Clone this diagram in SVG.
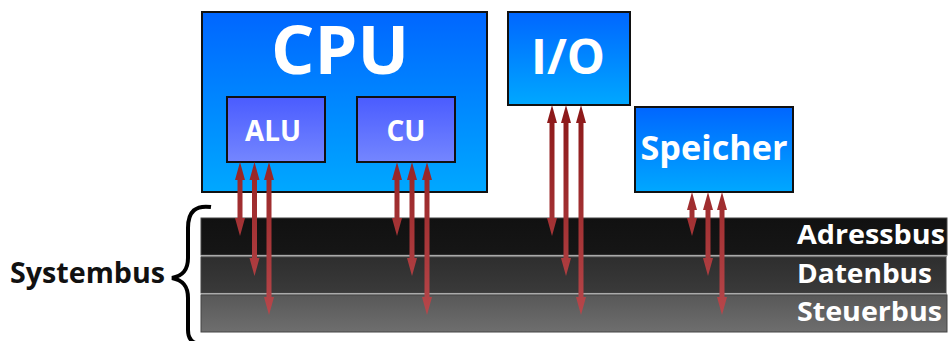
<svg xmlns="http://www.w3.org/2000/svg" width="950" height="341" viewBox="0 0 950 341">
<defs>
<linearGradient id="gBlue" x1="0" y1="0" x2="0" y2="1">
<stop offset="0" stop-color="#0066ff"/>
<stop offset="1" stop-color="#00a8ff"/>
</linearGradient>
<linearGradient id="gSub" x1="0" y1="0" x2="0" y2="1">
<stop offset="0" stop-color="#4a5cff"/>
<stop offset="1" stop-color="#7486ff"/>
</linearGradient>
<linearGradient id="gBus1" x1="0" y1="0" x2="0" y2="1">
<stop offset="0" stop-color="#111"/>
<stop offset="1" stop-color="#161616"/>
</linearGradient>
<linearGradient id="gBus2" x1="0" y1="0" x2="0" y2="1">
<stop offset="0" stop-color="#2e2e2e"/>
<stop offset="1" stop-color="#3a3a3a"/>
</linearGradient>
<linearGradient id="gBus3" x1="0" y1="0" x2="0" y2="1">
<stop offset="0" stop-color="#585858"/>
<stop offset="1" stop-color="#6e6e6e"/>
</linearGradient>
<linearGradient id="gArrow" gradientUnits="userSpaceOnUse" x1="0" y1="100" x2="0" y2="320">
<stop offset="0" stop-color="#8a1616"/>
<stop offset="1" stop-color="#b8484c"/>
</linearGradient>
</defs>
<style>
.box{stroke:#111;stroke-width:2}
.bus{stroke:#444;stroke-width:1}
.t{font-family:"Open Sans","DejaVu Sans",sans-serif;font-weight:bold;fill:#fff}
.lbl{font-family:"Open Sans","DejaVu Sans",sans-serif;font-weight:bold;fill:#fff;font-size:27px;text-anchor:end}
.arr{fill:url(#gArrow)}
</style>
<rect width="950" height="341" fill="#fff"/>

<g id="systembus-label">
<text x="10" y="283" font-family="Open Sans, DejaVu Sans, sans-serif" font-weight="bold" font-size="28" fill="#111" textLength="155" lengthAdjust="spacingAndGlyphs">Systembus</text>
<path d="M211,207 C196,205 188,211 188,228 L188,258 C188,271 182,276 172,278 C182,280 188,285 188,298 L188,330 C188,342 196,346 209,343" fill="none" stroke="#000" stroke-width="4"/>
</g>

<g id="adressbus">
<rect class="bus" x="201" y="218" width="746" height="37" fill="url(#gBus1)"/>
<text class="lbl" x="945" y="244" textLength="148" lengthAdjust="spacingAndGlyphs">Adressbus</text>
</g>
<rect x="201" y="255" width="746" height="2" fill="#aaa"/>
<g id="datenbus">
<rect class="bus" x="201" y="257" width="745" height="36" fill="url(#gBus2)"/>
<text class="lbl" x="932" y="283" textLength="135" lengthAdjust="spacingAndGlyphs">Datenbus</text>
</g>
<rect x="201" y="293" width="746" height="2" fill="#aaa"/>
<g id="steuerbus">
<rect class="bus" x="201" y="295" width="746" height="37" fill="url(#gBus3)"/>
<text class="lbl" x="942" y="321" textLength="145" lengthAdjust="spacingAndGlyphs">Steuerbus</text>
</g>

<g id="cpu">
<rect class="box" x="202" y="12" width="285" height="180" fill="url(#gBlue)"/>
<text class="t" x="340" y="74" font-size="66" text-anchor="middle" textLength="138" lengthAdjust="spacingAndGlyphs">CPU</text>
</g>
<g id="alu">
<rect class="box" x="227" y="97" width="98" height="65" fill="url(#gSub)"/>
<text class="t" x="273" y="141" font-size="28" text-anchor="middle" textLength="56" lengthAdjust="spacingAndGlyphs">ALU</text>
</g>
<g id="cu">
<rect class="box" x="357" y="97" width="98" height="65" fill="url(#gSub)"/>
<text class="t" x="406" y="141" font-size="28" text-anchor="middle">CU</text>
</g>
<g id="io">
<rect class="box" x="508" y="12" width="122" height="93" fill="url(#gBlue)"/>
<text class="t" x="568" y="74" font-size="48" text-anchor="middle">I/O</text>
</g>
<g id="speicher">
<rect class="box" x="635" y="107" width="158" height="85" fill="url(#gBlue)"/>
<text class="t" x="714" y="160" font-size="34" text-anchor="middle" textLength="147" lengthAdjust="spacingAndGlyphs">Speicher</text>
</g>

<g id="connectors">
<path class="arr" d="M240,162 L245,180 L242.5,180 L242.5,218 L245,218 L240,236 L235,218 L237.5,218 L237.5,180 L235,180 Z"/>
<path class="arr" d="M254.5,162 L259.5,180 L257,180 L257,258 L259.5,258 L254.5,276 L249.5,258 L252,258 L252,180 L249.5,180 Z"/>
<path class="arr" d="M269,162 L274,180 L271.5,180 L271.5,297 L274,297 L269,315 L264,297 L266.5,297 L266.5,180 L264,180 Z"/>
<path class="arr" d="M397,162 L402,180 L399.5,180 L399.5,218 L402,218 L397,236 L392,218 L394.5,218 L394.5,180 L392,180 Z"/>
<path class="arr" d="M412,162 L417,180 L414.5,180 L414.5,258 L417,258 L412,276 L407,258 L409.5,258 L409.5,180 L407,180 Z"/>
<path class="arr" d="M427,162 L432,180 L429.5,180 L429.5,297 L432,297 L427,315 L422,297 L424.5,297 L424.5,180 L422,180 Z"/>
<path class="arr" d="M552,105 L557,123 L554.5,123 L554.5,218 L557,218 L552,236 L547,218 L549.5,218 L549.5,123 L547,123 Z"/>
<path class="arr" d="M566,105 L571,123 L568.5,123 L568.5,258 L571,258 L566,276 L561,258 L563.5,258 L563.5,123 L561,123 Z"/>
<path class="arr" d="M581,105 L586,123 L583.5,123 L583.5,297 L586,297 L581,315 L576,297 L578.5,297 L578.5,123 L576,123 Z"/>
<path class="arr" d="M692,192 L697,210 L694.5,210 L694.5,218 L697,218 L692,236 L687,218 L689.5,218 L689.5,210 L687,210 Z"/>
<path class="arr" d="M708,192 L713,210 L710.5,210 L710.5,258 L713,258 L708,276 L703,258 L705.5,258 L705.5,210 L703,210 Z"/>
<path class="arr" d="M722,192 L727,210 L724.5,210 L724.5,297 L727,297 L722,315 L717,297 L719.5,297 L719.5,210 L717,210 Z"/>
</g>
</svg>
